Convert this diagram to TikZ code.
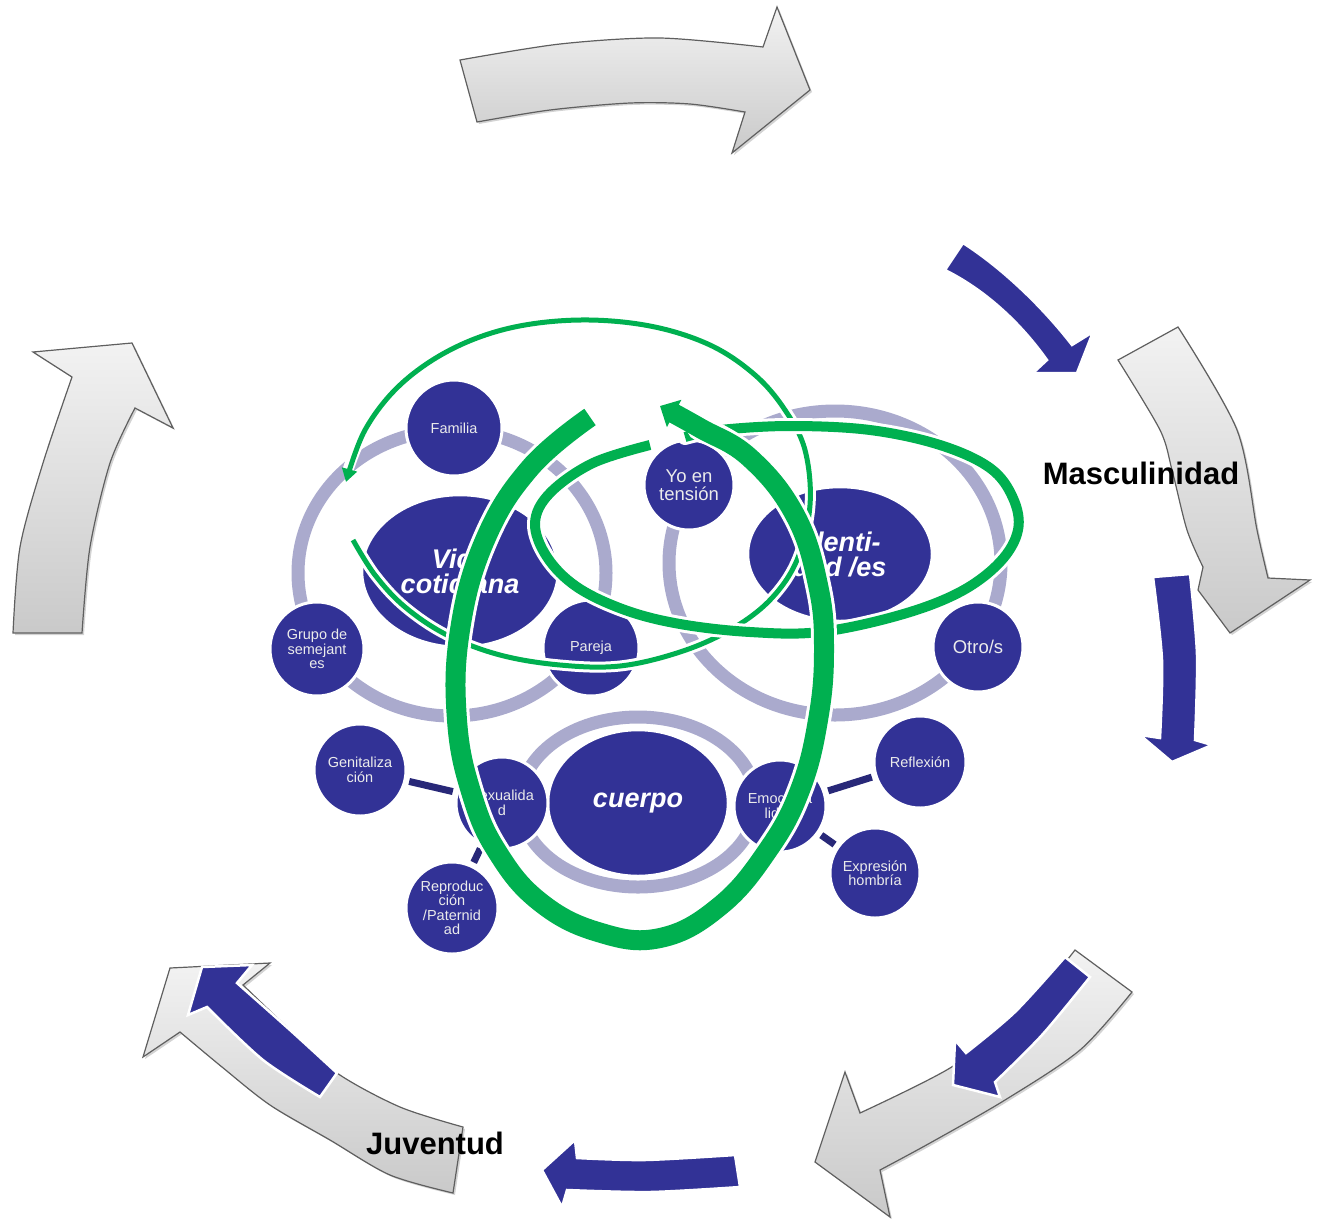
\documentclass[tikz,border=0pt]{standalone}
\usepackage{fontspec}
\setmainfont{Liberation Sans}
\usetikzlibrary{arrows.meta,shapes.geometric,shadows}
\definecolor{cblue}{RGB}{50,50,150}
\definecolor{cring}{RGB}{170,170,205}
\definecolor{cgreen}{RGB}{0,176,80}
\definecolor{cnavy}{RGB}{40,40,120}
\definecolor{ctext}{RGB}{235,235,235}
\definecolor{cgrayline}{RGB}{95,95,95}
\newcommand\fsat{\fontsize{14.5}{14.5}\selectfont}
\newcommand\fyo{\fontsize{18.5}{18}\selectfont}
\newcommand\fctr{\fontsize{27}{25}\selectfont\bfseries\itshape}
\newcommand\flab{\fontsize{31}{31}\selectfont\bfseries}
\tikzset{
  grayarrow/.style={draw=cgrayline, line width=1.2pt, top color=gray!10, bottom color=gray!42,
     drop shadow={shadow xshift=2pt, shadow yshift=-2pt, opacity=0.35}},
  bluearrow/.style={fill=cblue, draw=white, line width=2.5pt, line join=miter},
  ring/.style={draw=cring, line width=13pt},
  ctr/.style={ellipse, fill=cblue, draw=white, line width=2.5pt, inner sep=0pt, text=white, align=center, font=\fctr},
  sat/.style={circle, fill=cblue, draw=white, line width=3pt, inner sep=0pt, text=ctext, align=center, font=\fsat},
  conn/.style={draw=cnavy, line width=7pt, shorten <=3pt, shorten >=3pt},
  halo/.style={draw=white, line width=#1, line cap=round},
  gthin/.style={draw=cgreen, line width=5pt, -{Triangle[length=13pt,width=15pt]}},
  gmed/.style={draw=cgreen, line width=10pt},
  gthick/.style={draw=cgreen, line width=20pt, -{Triangle[length=16pt,width=30pt]}},
  lab/.style={text=black, font=\flab, inner sep=0pt}
}
\begin{document}
\begin{tikzpicture}[x=1pt,y=-1pt]
\useasboundingbox (0,0) rectangle (1317,1219);

% ---------- gray curved arrows ----------
\path[grayarrow] (460,60) -- plot[smooth] coordinates {(460,60) (560,44) (660,38) (763,47)}
  -- (777,7) -- (810,90) -- (732,153) -- (745,112)
  -- plot[smooth] coordinates {(745,112) (690,104) (630,103) (550,110) (477,122)} -- cycle;
\path[grayarrow] (1118,360) -- (1178,327)
  -- plot[smooth] coordinates {(1178,327) (1237,430) (1257,530) (1268,578)}
  -- (1310,580) -- (1230,633) -- (1198,590) -- (1203,567)
  -- plot[smooth] coordinates {(1203,567) (1187,530) (1172,470) (1160,430) (1118,360)} -- cycle;
\path[grayarrow] (1075,950) -- (1132,992)
  -- plot[smooth] coordinates {(1132,992) (1080,1050) (1005,1100) (930,1143) (880,1170)}
  -- (890,1217) -- (815,1162) -- (845,1072) -- (860,1113)
  -- plot[smooth] coordinates {(860,1113) (950,1068) (1020,1015) (1075,950)} -- cycle;
\path[grayarrow] (143,1057) -- (170,968) -- (270,963) -- (243,985)
  -- plot[smooth] coordinates {(243,985) (290,1030) (337,1073) (400,1107) (463,1127)}
  -- (453,1193)
  -- plot[smooth] coordinates {(453,1193) (390,1175) (330,1140) (270,1105) (222,1067) (180,1032)} -- cycle;
\path[grayarrow] (13,633) -- (82,633)
  -- plot[smooth] coordinates {(82,633) (90,547) (110,463) (135,408)}
  -- (173,428) -- (132,343) -- (33,352) -- (72,377)
  -- plot[smooth] coordinates {(72,377) (43,463) (20,547) (13,633)} -- cycle;

% ---------- blue arrows ----------
\path[bluearrow] (963,243) .. controls (1005,270) and (1045,310) .. (1072,345)
  -- (1093,332) -- (1077,373) -- (1033,373) -- (1047,360)
  .. controls (1020,322) and (985,290) .. (945,270) -- cycle;
\path[bluearrow] (1153,577) -- (1190,574)
  -- plot[smooth] coordinates {(1190,574) (1197,655) (1195,740)}
  -- (1212,745) -- (1172,762) -- (1140,735) -- (1160,738)
  -- plot[smooth] coordinates {(1160,738) (1162,660) (1153,577)} -- cycle;
\path[bluearrow] (1065,957) -- (1090,977)
  -- plot[smooth] coordinates {(1090,977) (1042,1035) (995,1082)}
  -- (1000,1097) -- (953,1085) -- (955,1040) -- (966,1053)
  -- plot[smooth] coordinates {(966,1053) (1015,1012) (1065,957)} -- cycle;
\path[bluearrow] (735,1155) -- plot[smooth] coordinates {(735,1155) (645,1160) (577,1158)}
  -- (575,1140) -- (542,1170) -- (562,1207) -- (567,1190)
  -- plot[smooth] coordinates {(567,1190) (650,1192) (740,1187)} -- cycle;
\path[bluearrow] (202,967) -- (252,965) -- (237,983)
  -- plot[smooth] coordinates {(237,983) (290,1030) (337,1073)}
  -- (320,1097)
  -- plot[smooth] coordinates {(320,1097) (263,1060) (207,1007)}
  -- (188,1015) -- cycle;

% ---------- rings ----------
\draw[ring] (452,573) ellipse [x radius=154, y radius=143];
\draw[ring] (835,563) ellipse [x radius=166, y radius=152];
\draw[ring] (638,802) ellipse [x radius=118, y radius=85];

% ---------- central ellipses ----------
\node[ctr, minimum width=196, minimum height=152] (vida) at (460,571) {Vida\\cotidiana};
\node[ctr, minimum width=184, minimum height=134] (ident) at (840,554) {Identi-\\dad /es};
\node[ctr, minimum width=180, minimum height=146] (cuerpo) at (638,803) {cuerpo};

% ---------- satellites ----------
\node[sat, minimum size=96] (fam) at (454,428) {Familia};
\node[sat, minimum size=94] (grupo) at (317,649) {Grupo de\\semejant\\es};
\node[sat, minimum size=96] (pareja) at (591,648) {Pareja};
\node[sat, minimum size=90, font=\fyo] (yo) at (689,485) {Yo en\\tensión};
\node[sat, minimum size=90, font=\fyo] (otro) at (978,647) {Otro/s};
\node[sat, minimum size=92] (sex) at (502,803) {Sexualida\\d};
\node[sat, minimum size=92] (emo) at (780,806) {Emociona\\lidad};
\node[sat, minimum size=92] (gen) at (360,770) {Genitaliza\\ción};
\node[sat, minimum size=92] (rep) at (452,908) {Reproduc\\ción\\/Paternid\\ad};
\node[sat, minimum size=92] (ref) at (920,762) {Reflexión};
\node[sat, minimum size=90] (exp) at (875,873) {Expresión\\hombría};

\draw[conn] (gen) -- (sex);
\draw[conn] (rep) -- (sex);
\draw[conn] (emo) -- (ref);
\draw[conn] (emo) -- (exp);

% ---------- green strokes ----------
\draw[halo=11pt] plot[smooth, tension=0.6] coordinates {(353,540) (375,575) (405,607) (447,635) (500,655) (560,665) (620,666) (680,652) (730,630) (770,600) (797,560) (810,505) (805,450) (785,410) (755,375) (710,345) (650,326) (580,320) (510,328) (450,350) (400,385) (365,430) (348,470)};
\draw[gthin] plot[smooth, tension=0.6] coordinates {(353,540) (375,575) (405,607) (447,635) (500,655) (560,665) (620,666) (680,652) (730,630) (770,600) (797,560) (810,505) (805,450) (785,410) (755,375) (710,345) (650,326) (580,320) (510,328) (450,350) (400,385) (365,430) (346,482)};

\draw[halo=16pt] plot[smooth, tension=0.6] coordinates {(650,445) (593,463) (550,493) (535,523) (547,557) (577,587) (625,610) (680,624) (750,632) (820,632) (900,615) (960,592) (1000,562) (1018,530) (1013,498) (990,468) (940,445) (870,430) (790,426) (720,430) (685,437)};
\draw[gmed] plot[smooth, tension=0.6] coordinates {(650,445) (593,463) (550,493) (535,523) (547,557) (577,587) (625,610) (680,624) (750,632) (820,632) (900,615) (960,592) (1000,562) (1018,530) (1013,498) (990,468) (940,445) (870,430) (790,426) (720,430) (685,437)};

\draw[halo=26pt] plot[smooth, tension=0.7] coordinates {(590,417) (530,468) (485,540) (460,630) (457,720) (472,795) (498,853) (540,902) (598,932) (660,938) (720,906) (768,850) (800,790) (818,720) (824,650) (818,585) (795,515) (750,458) (700,428)};
\draw[gthick] plot[smooth, tension=0.7] coordinates {(590,417) (530,468) (485,540) (460,630) (457,720) (472,795) (498,853) (540,902) (598,932) (660,938) (720,906) (768,850) (800,790) (818,720) (824,650) (818,585) (795,515) (750,458) (700,428) (660,406)};

% ---------- labels ----------
\node[lab] (masc) at (1141,473) {Masculinidad};
\node[lab] (juv) at (435,1143) {Juventud};
\end{tikzpicture}
\end{document}
